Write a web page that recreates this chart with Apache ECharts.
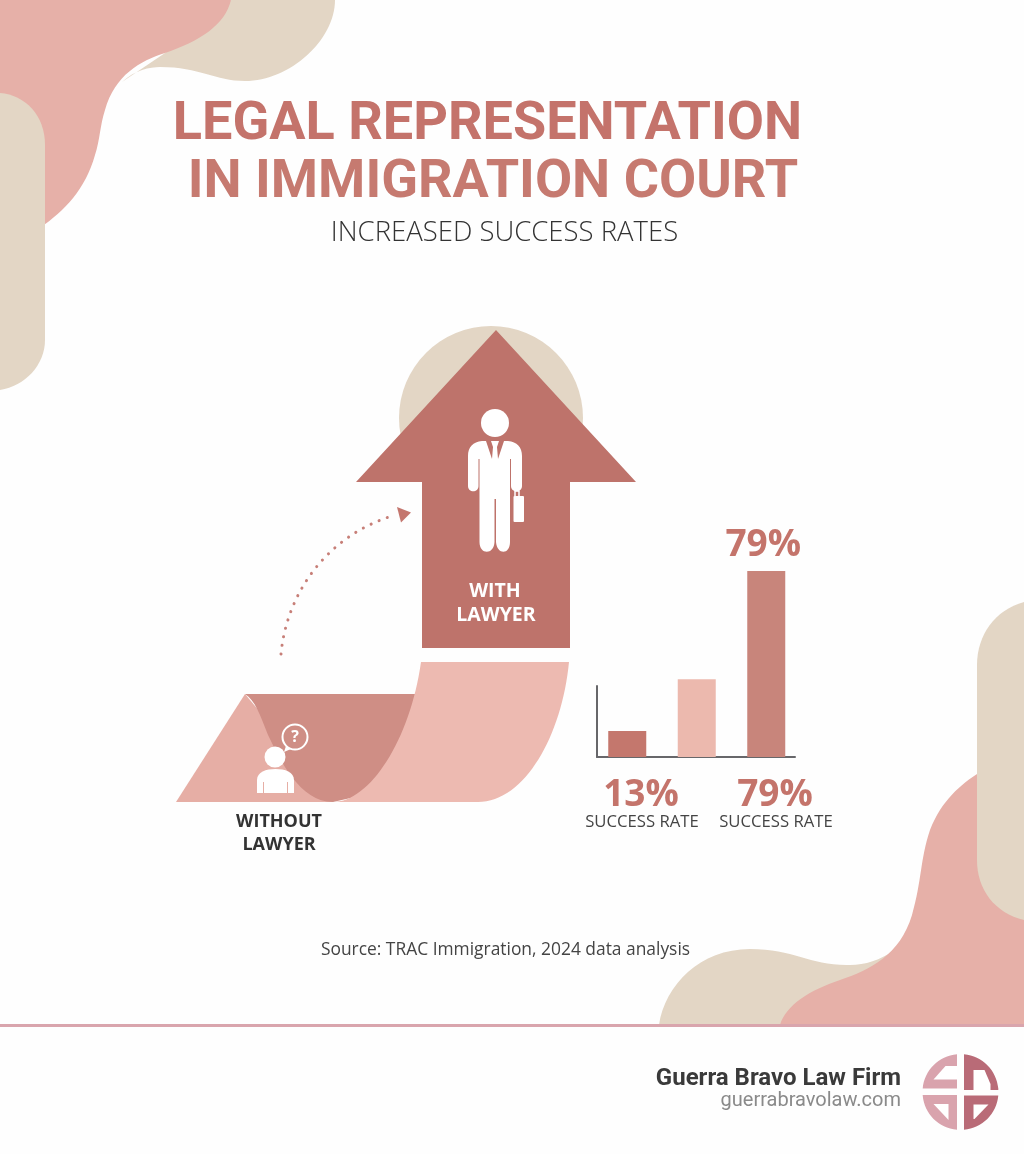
<!DOCTYPE html>
<html lang="en">
<head>
<meta charset="UTF-8">
<title>Legal Representation in Immigration Court</title>
<style>
html,body{margin:0;padding:0;background:#fff;}
#main{width:1024px;height:1154px;}
</style>
</head>
<body>
<div id="main"></div>
<script src="https://cdn.jsdelivr.net/npm/echarts@6/dist/echarts.min.js"></script>
<script>
// bars
var categories = ['Without lawyer', 'Middle', 'With lawyer'];
var barValues = [11, 33, 79];
var barColors = ['#c4776d', '#ecb9ae', '#c8857b'];
var topLabel = '79%';
var rateLabels = ['13%', '79%'];
var rateCaption = 'SUCCESS RATE';

var titleLines = ['LEGAL REPRESENTATION', 'IN IMMIGRATION COURT'];
var subtitle = 'INCREASED SUCCESS RATES';
var source = 'Source: TRAC Immigration, 2024 data analysis';

var PINK = '#e6b0a8', BEIGE = '#e3d6c5', ROSE = '#be736b', PALE = '#edbab1';
var LOGO_L = '#d9a3ad', LOGO_R = '#b96b77';
var FONT = '"Open Sans"';

// background blobs and the arrow illustration
function p(d, fill, extra) {
    var style = {fill: fill};
    for (var k in extra) style[k] = extra[k];
    return {type: 'path', shape: {pathData: d}, style: style};
}

var shapes = [
    p('M231,0 L335,0 C335,40 290,81 245,81 C215,81 200,67 160,67 C150,67 135,70 122,82 L165,53 Z', BEIGE),
    p('M0,0 L231,0 C225,25 200,41 165,53 C140,61 115,75 105,110 C100,125 100,140 95,155 C85,190 65,210 40,228 L0,228 Z', PINK),
    p('M0,93 C25,95 45,115 45,145 L45,340 C45,365 25,386 0,390 Z', BEIGE),
    p('M659,1025 C665,985 700,949 750,949 C795,949 810,966 850,965 C865,965 880,960 895,950 L895,1025 Z', BEIGE),
    p('M780,1025 C786,1005 810,990 840,980 C870,970 900,955 912,915 C922,880 920,860 930,830 C942,800 960,785 980,772 L1024,772 L1024,1025 Z', PINK),
    p('M1024,602 C995,610 977,635 977,665 L977,860 C977,890 995,913 1024,920 Z', BEIGE),
    {type: 'rect', shape: {x: 0, y: 1024, width: 1024, height: 3}, style: {fill: '#d9a5ad'}},
    // circle behind the arrow
    {type: 'circle', shape: {cx: 491, cy: 418, r: 92}, style: {fill: BEIGE}},
    p('M496,330 L636,482 L570,482 L570,648 L422,648 L422,482 L356,482 Z', ROSE),
    // dotted path
    p('M281,654 C287,590 330,535 392,516', 'none', {stroke: '#c77f78', lineWidth: 3, lineCap: 'round', lineDash: [0.1, 8.6]}),
    p('M397,507 L411,512.5 L401,522.5 Z', '#c4766e'),
    // ribbon
    p('M176,802 L245,694 L300,760 L333,802 Z', '#e6aea5'),
    p('M245,694 L416,694 L430,700 L430,780 L333,802 C300,802 280,760 268,735 C260,715 255,700 245,694 Z', '#cf8e85'),
    p('M421,662 L569,662 C562,735 525,802 478,802 L333,802 C370,802 410,740 421,662 Z', PALE),
    // man with lawyer
    {type: 'circle', shape: {cx: 495, cy: 423, r: 14}, style: {fill: '#fff'}},
    p('M482,441 L508,441 C517,442 522,447 522,456 L522,486 C522,493 511,493 511,486 L511,459 L510,459 L510,542 C510,555 497,555 496,542 L496,499 L494.5,499 L494.5,542 C494,555 479.5,555 479.5,542 L479.5,459 L478.5,459 L478.5,486 C478.5,493 468,493 468,486 L468,456 C468,447 473,442 482,441 Z', '#fff'),
    p('M486,441 L491,441 L493,447 L492,459 Z', ROSE),
    p('M504,441 L499,441 L497,447 L498,459 Z', ROSE),
    {type: 'rect', shape: {x: 513.5, y: 496, width: 10.5, height: 26, r: 1}, style: {fill: '#fff'}},
    p('M515,496 L515,491 L519,491 L519,496', 'none', {stroke: '#fff', lineWidth: 1.5}),
    // man without lawyer
    {type: 'circle', shape: {cx: 275, cy: 757, r: 10.5}, style: {fill: '#fff'}},
    p('M257,793 L257,780 C257,772 266,769 275.5,769 C285,769 294,772 294,780 L294,793 Z', '#fff'),
    p('M263.5,782 L263.5,793 M287.5,782 L287.5,793', 'none', {stroke: '#e6aea5', lineWidth: 1}),
    {type: 'circle', shape: {cx: 295, cy: 737, r: 12.5}, style: {fill: 'none', stroke: '#fff', lineWidth: 2}},
    p('M286,746 L284,752 L291,749 Z', '#fff')
];

// logo, four quadrants around its centre
var logo = {
    type: 'group', x: 960.5, y: 1092,
    children: [
        p('M2,-3.5 L-37.8,-3.5 C-36,-22 -22,-36 -3.5,-37.8 L-3.5,-3.5 Z', LOGO_L),
        p('M-3.5,-26 L-15,-26 L-27,-12.5 L-3.5,-12.5 Z', '#fff'),
        p('M3.5,3 L3.5,-37.8 C22,-36 36,-22 37.8,-3.5 L37.8,-2 L3.5,-2 Z', LOGO_R),
        p('M13,-22 L24,-22 L30,-8 L30,-2 L13,-2 Z', '#fff'),
        p('M-2,3.5 L37.8,3.5 C36,22 22,36 3.5,37.8 L3.5,3.5 Z', LOGO_R),
        p('M13,12.5 L28,12.5 L14,27 L13,27 Z', '#fff'),
        p('M-3.5,-2 L-3.5,37.8 C-22,36 -36,22 -37.8,3.5 L-37.8,3 L-3.5,3 Z', LOGO_L),
        p('M-12,12 L-27,12 L-12,28 Z', '#fff')
    ]
};
shapes.push(logo);

function txt(x, y, str, size, weight, color, align, family) {
    return {
        type: 'text', x: x, y: y, z: 100, silent: true,
        style: {
            text: str, fill: color, align: align || 'center', verticalAlign: 'middle',
            font: weight + ' ' + size + 'px ' + (family || FONT)
        }
    };
}

var myChart = echarts.init(document.getElementById('main'), null, {renderer: 'canvas'});
var option = {
    animation: false,
    backgroundColor: '#fefefe',
    grid: [
        {left: 592.5, width: 208.5, top: 571, bottom: 397},
        {left: 597, right: 229, top: 686, bottom: 397}   // only draws the short axis lines
    ],
    xAxis: [
        {type: 'category', data: categories, gridIndex: 0, axisLine: {show: false}, axisTick: {show: false}, axisLabel: {show: false}},
        {type: 'value', gridIndex: 1, splitLine: {show: false}, axisTick: {show: false}, axisLabel: {show: false},
            axisLine: {show: true, onZero: false, lineStyle: {color: '#67676a', width: 2}}}
    ],
    yAxis: [
        {type: 'value', min: 0, max: 79, gridIndex: 0, show: false},
        {type: 'value', gridIndex: 1, splitLine: {show: false}, axisTick: {show: false}, axisLabel: {show: false},
            axisLine: {show: true, onZero: false, lineStyle: {color: '#67676a', width: 2}}}
    ],
    series: [
        {
            type: 'custom', coordinateSystem: 'none', z: 1, silent: true, data: [0],
            renderItem: function () {
                return {type: 'group', children: shapes};
            }
        },
        {
            type: 'bar', xAxisIndex: 0, yAxisIndex: 0, barWidth: 38, z: 3,
            data: barValues.map(function (v, i) {
                return {
                    value: v, itemStyle: {color: barColors[i]},
                    label: {show: i === 2, position: 'top', distance: 7, offset: [-3, 0], formatter: topLabel, color: '#c4746b', fontFamily: FONT, fontWeight: 'bold', fontSize: 37}
                };
            })
        }
    ],
    graphic: {
        elements: [
            txt(487.5, 125, titleLines[0], 54, 'bold', '#c4736b', 'center', 'Roboto'),
            txt(493, 183, titleLines[1], 54, 'bold', '#c67a70', 'center', 'Roboto'),
            txt(504.5, 233, subtitle, 27.5, '300', '#333'),
            txt(495, 591, 'WITH', 19.5, 'bold', '#fff'),
            txt(496, 615, 'LAWYER', 19.5, 'bold', '#fff'),
            txt(279, 822, 'WITHOUT', 18, 'bold', '#333'),
            txt(279, 845, 'LAWYER', 18, 'bold', '#333'),
            txt(295, 737, '?', 16, 'bold', '#fff'),
            txt(641, 795, rateLabels[0], 37, 'bold', '#c4746b'),
            txt(775, 795, rateLabels[1], 37, 'bold', '#c4746b'),
            txt(642, 822, rateCaption, 16.7, 'normal', '#444'),
            txt(776, 822, rateCaption, 16.7, 'normal', '#444'),
            txt(505.5, 950, source, 17.4, 'normal', '#444'),
            txt(901, 1079, 'Guerra Bravo Law Firm', 24, 'bold', '#3a3a3a', 'right', 'Roboto'),
            txt(901, 1101, 'guerrabravolaw.com', 20, 'normal', '#8a8a8a', 'right', 'Roboto')
        ]
    }
};
myChart.setOption(option);
</script>
</body>
</html>
